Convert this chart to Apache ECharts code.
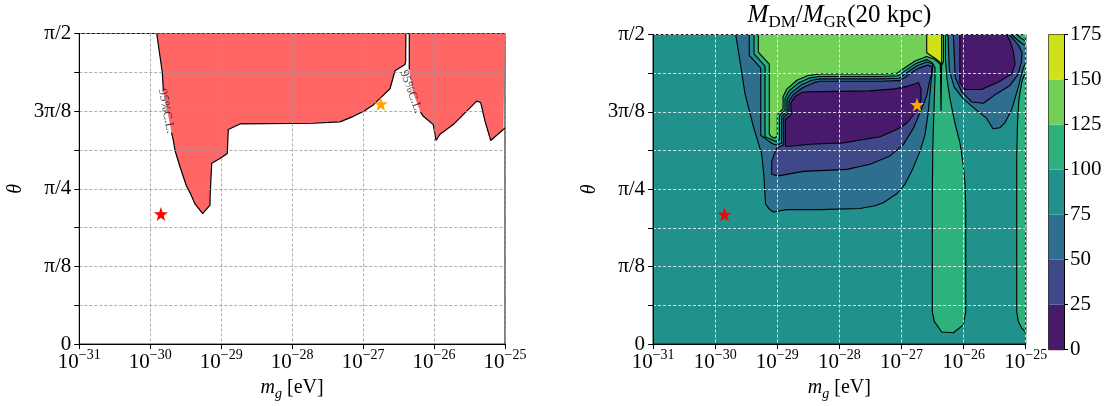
<!DOCTYPE html>
<html><head><meta charset="utf-8">
<script src="https://cdn.jsdelivr.net/npm/echarts@6/dist/echarts.min.js"></script>
<style>html,body{margin:0;padding:0;background:#fff}#c{width:1112px;height:406px}</style>
</head><body><div id="c"></div>
<script>
// ================= DATA =================
// x: log10(m_g / eV), y: theta in degrees (90 = pi/2)
const massDecades = [-31, -30, -29, -28, -27, -26, -25];
const thetaTickLabels = ['0', '', 'π/8', '', 'π/4', '', '3π/8', '', 'π/2']; // every π/16
const ratioLevels = [0, 25, 50, 75, 100, 125, 150, 175];

// left panel: excluded (95% C.L.) regions, boundary
const excludedRegionA = [
  [-29.909, 90.0], [-29.83, 78.7], [-29.816, 73.5], [-29.70, 61.3], [-29.675, 59.0],
  [-29.651, 56.1], [-29.581, 51.4], [-29.49, 45.8], [-29.440, 43.9], [-29.369, 40.6],
  [-29.261, 37.8], [-29.158, 40.3], [-29.156, 43.0], [-29.134, 52.4], [-29.017, 53.8],
  [-28.914, 55.2], [-28.900, 62.2], [-28.735, 63.8], [-28.36, 63.9], [-27.70, 64.0],
  [-27.326, 64.4], [-27.138, 66.0], [-26.997, 67.4], [-26.856, 69.3], [-26.762, 71.2],
  [-26.621, 74.0], [-26.550, 79.2], [-26.409, 81.0], [-26.400, 82.0], [-26.397, 90.0]
];
const excludedRegionB = [
  [-26.349, 90.0], [-26.349, 79.6], [-26.30, 73.1], [-26.191, 67.2], [-26.151, 66.0],
  [-26.011, 63.6], [-25.972, 59.0], [-25.916, 60.8], [-25.729, 63.6], [-25.399, 70.4],
  [-25.342, 70.0], [-25.282, 64.6], [-25.201, 59.0], [-25.024, 62.2], [-25.0, 62.6]
];
// where the "95%C.L." contour labels sit: [x, y, angle], and the stretch of line they hide
const clLabelSpots = [[-29.775, 67.5, -79], [-26.325, 73.1, -70]];
const clLabelGaps = [[-29.83, -29.69, 61, 74], [-26.36, -26.18, 66.5, 79.7]];

const redStar = [[-29.85, 37.7]];
const orangeStar = [[-26.75, 69.6]];

// right panel: filled contours of M_DM/M_GR (20 kpc); background band is 75-100
const leftWellBelow75 = [
  [-29.670, 90.0], [-29.601, 82.3], [-29.520, 72.8], [-29.386, 63.3], [-29.306, 58.5],
  [-29.251, 55.2], [-29.214, 48.5], [-29.190, 40.8], [-29.134, 39.3], [-29.064, 38.4],
  [-28.849, 39.1], [-28.312, 39.1], [-27.668, 39.4], [-27.427, 40.2], [-27.293, 41.1],
  [-27.077, 43.7], [-26.944, 46.5], [-26.810, 51.3], [-26.702, 56.1], [-26.622, 60.8],
  [-26.568, 67.5], [-26.530, 75.1], [-26.501, 79.9], [-26.493, 81.4], [-26.589, 82.0],
  [-26.750, 80.9], [-26.879, 79.3], [-27.040, 77.3], [-27.346, 77.1], [-28.312, 77.1],
  [-28.441, 76.7], [-28.618, 75.3], [-28.779, 73.0], [-28.844, 71.0], [-28.844, 67.6],
  [-28.929, 66.2], [-28.929, 58.4], [-29.021, 57.9], [-29.085, 58.3], [-29.182, 59.6],
  [-29.267, 60.7], [-29.267, 80.2], [-29.451, 83.9], [-29.451, 90.0]
];
const leftWellBelow50 = [
  [-28.897, 57.9], [-28.897, 65.9], [-28.812, 67.2], [-28.812, 70.6], [-28.747, 72.4],
  [-28.586, 74.6], [-28.409, 76.0], [-28.312, 76.4], [-27.346, 76.4], [-27.024, 76.6],
  [-26.863, 78.6], [-26.734, 80.1], [-26.581, 81.1], [-26.509, 80.7], [-26.517, 78.4],
  [-26.541, 77.0], [-26.594, 72.2], [-26.675, 68.4], [-26.810, 62.7], [-26.971, 58.0],
  [-27.185, 54.7], [-27.507, 52.3], [-27.882, 50.8], [-28.581, 50.2], [-28.984, 48.9],
  [-29.090, 49.4], [-29.090, 53.2], [-29.010, 57.0]
];
const leftWellBelow25 = [
  [-28.868, 57.5], [-28.868, 65.3], [-28.779, 66.7], [-28.779, 70.2], [-28.715, 72.0],
  [-28.586, 73.3], [-28.312, 73.4], [-27.507, 73.6], [-27.105, 74.2], [-26.895, 75.0],
  [-26.726, 76.0], [-26.686, 74.2], [-26.686, 70.7], [-26.742, 68.4], [-26.810, 66.6],
  [-26.916, 64.2], [-27.077, 62.4], [-27.346, 60.3], [-27.937, 58.5], [-28.473, 58.1],
  [-28.796, 57.5]
];
const peakAbove100 = [
  [-29.375, 90.0], [-26.292, 90.0], [-26.292, 82.7], [-26.267, 77.0], [-26.219, 71.3],
  [-26.139, 64.2], [-26.058, 58.4], [-26.010, 52.7], [-25.978, 47.0], [-25.966, 39.9],
  [-25.966, 9.4], [-26.005, 5.6], [-26.166, 3.3], [-26.353, 3.5], [-26.472, 6.6],
  [-26.504, 9.4], [-26.504, 42.7], [-26.496, 57.0], [-26.477, 68.4], [-26.461, 77.0],
  [-26.461, 80.4], [-26.509, 81.9], [-26.594, 82.7], [-26.767, 81.6], [-26.895, 80.0],
  [-27.056, 78.0], [-27.346, 77.8], [-28.312, 77.8], [-28.473, 77.4], [-28.651, 76.0],
  [-28.812, 73.6], [-28.876, 71.4], [-28.876, 68.0], [-28.965, 66.4], [-28.965, 59.4],
  [-29.021, 58.9], [-29.085, 59.4], [-29.198, 60.3], [-29.198, 80.8], [-29.375, 84.4]
];
const peakAbove125 = [
  [-29.306, 90.0], [-26.324, 90.0], [-26.324, 82.1], [-26.356, 81.0], [-26.412, 81.9],
  [-26.477, 82.9], [-26.594, 83.6], [-26.783, 82.3], [-26.916, 80.7], [-27.077, 78.7],
  [-27.346, 78.5], [-28.312, 78.5], [-28.506, 78.1], [-28.683, 76.7], [-28.844, 74.2],
  [-28.908, 71.9], [-28.908, 68.4], [-29.000, 66.7], [-29.000, 60.4], [-29.045, 59.9],
  [-29.093, 60.3], [-29.129, 61.0], [-29.129, 81.4], [-29.306, 84.9]
];
const peakAbove150 = [
  [-26.594, 90.0], [-26.353, 90.0], [-26.353, 81.9], [-26.364, 67.9], [-26.375, 81.9],
  [-26.461, 83.1], [-26.594, 84.7]
];
const rightWellBelow75 = [
  [-26.250, 90.0], [-25.229, 90.0], [-25.148, 88.7], [-25.076, 87.6], [-25.0, 86.7],
  [-25.0, 81.6], [-25.039, 80.4], [-25.119, 74.7], [-25.226, 68.1], [-25.333, 64.4],
  [-25.414, 62.9], [-25.527, 62.6], [-25.628, 65.6], [-25.816, 68.4], [-26.005, 71.3],
  [-26.150, 74.7], [-26.230, 79.5]
];
const rightWellBelow50 = [
  [-26.165, 90.0], [-25.269, 90.0], [-25.188, 88.4], [-25.108, 86.6], [-25.060, 84.7],
  [-25.068, 82.1], [-25.119, 78.5], [-25.253, 75.2], [-25.467, 72.8], [-25.683, 70.0],
  [-25.870, 70.4], [-26.030, 73.3], [-26.135, 77.6]
];
const rightWellBelow25 = [
  [-26.060, 90.0], [-25.306, 90.0], [-25.253, 88.1], [-25.200, 85.2], [-25.172, 81.4],
  [-25.226, 78.5], [-25.441, 76.2], [-25.709, 74.0], [-25.975, 74.0], [-26.060, 75.9]
];
const edgeAbove100 = [
  [-25.0, 79.3], [-25.060, 76.4], [-25.108, 71.3], [-25.132, 64.2], [-25.145, 54.2],
  [-25.145, 9.4], [-25.119, 6.6], [-25.064, 4.7], [-25.0, 3.3]
];
const cornerAbove100 = [[-25.140, 90.0], [-25.0, 90.0], [-25.0, 88.1], [-25.076, 88.9]];

// painting order and the level band (index into ratioLevels) of each filled contour
const contourLayers = [
  [leftWellBelow75, 2], [leftWellBelow50, 1], [leftWellBelow25, 0],
  [peakAbove100, 4], [peakAbove125, 5], [peakAbove150, 6],
  [rightWellBelow75, 2], [rightWellBelow50, 1], [rightWellBelow25, 0],
  [edgeAbove100, 4], [cornerAbove100, 4]
];
const backgroundBand = 3;

// ================= STYLE =================
const FONT = '"Liberation Serif","DejaVu Serif",serif';
const bandColors = ['#481a6c', '#3f4889', '#2e6e8e', '#21918c', '#2db27d', '#73d056', '#d0e11c'];
const STAR = 'path://M50,0 L61.8,35.3 L99,35.3 L69,57.6 L80.4,92.7 L50,71 L19.6,92.7 L31,57.6 L1,35.3 L38.2,35.3 Z';
const G1 = {left: 79.3, top: 33.5, width: 425.7, height: 318.8};
const G2 = {left: 653.1, top: 34.5, width: 372.6, height: 315.2};
const G3 = {left: 1048.7, top: 34.5, width: 15.3, height: 315.2};

const supRich = {
  b: {fontFamily: FONT, fontSize: 21, color: '#000', verticalAlign: 'bottom'},
  s: {fontFamily: FONT, fontSize: 14, color: '#000', verticalAlign: 'top', lineHeight: 25}
};
const nameRich = {
  i: {fontFamily: FONT, fontSize: 20, fontStyle: 'italic', color: '#000', verticalAlign: 'top'},
  sub: {fontFamily: FONT, fontSize: 14, fontStyle: 'italic', color: '#000', verticalAlign: 'bottom', lineHeight: 23},
  r: {fontFamily: FONT, fontSize: 20, color: '#000', verticalAlign: 'top'}
};

function massAxis(gi, splitColor, gap) {
  return {
    type: 'value', gridIndex: gi, min: massDecades[0], max: massDecades[massDecades.length - 1], interval: 1,
    z: 3,
    axisLine: {show: true, onZero: false, lineStyle: {color: '#000', width: 1}},
    axisTick: {show: true, inside: false, length: 5, lineStyle: {color: '#000', width: 1}},
    axisLabel: {
      margin: 4, showMinLabel: true, showMaxLabel: true,
      formatter: v => { const d = massDecades.find(m => Math.abs(m - v) < 1e-6); return d === undefined ? '' : '{b|10}{s|−' + Math.abs(d) + '}'; },
      rich: supRich
    },
    splitLine: {show: true, lineStyle: {color: splitColor, type: [3, 2], width: 0.8}},
    name: '{i|m}{sub|g}{r| [eV]}', nameLocation: 'middle', nameGap: gap,
    nameTextStyle: {rich: nameRich}
  };
}
function thetaAxis(gi, splitColor, gap) {
  return {
    type: 'value', gridIndex: gi, min: 0, max: 90, interval: 11.25,
    z: 3,
    axisLine: {show: true, onZero: false, lineStyle: {color: '#000', width: 1}},
    axisTick: {show: true, inside: false, length: 5, lineStyle: {color: '#000', width: 1}},
    axisLabel: {
      margin: 8, fontFamily: FONT, fontSize: 21, color: '#000',
      formatter: v => thetaTickLabels[Math.round(v / 11.25)] || ''
    },
    splitLine: {show: true, lineStyle: {color: splitColor, type: [3, 2], width: 0.8}},
    name: 'θ', nameLocation: 'middle', nameRotate: 90, nameGap: gap,
    nameTextStyle: {fontFamily: FONT, fontSize: 20, fontStyle: 'italic', color: '#000'}
  };
}

function outlineWithGaps(pts) {
  const out = [];
  const inGap = p => clLabelGaps.some(g => p[0] >= g[0] && p[0] <= g[1] && p[1] >= g[2] && p[1] <= g[3]);
  for (let i = 0; i < pts.length; i++) {
    out.push(pts[i]);
    if (i + 1 < pts.length && inGap(pts[i]) && inGap(pts[i + 1])) out.push(null);
  }
  return out;
}

const series = [];
[excludedRegionA, excludedRegionB].forEach(reg => {
  series.push({
    type: 'line', xAxisIndex: 0, yAxisIndex: 0, data: reg, showSymbol: false, symbol: 'none',
    lineStyle: {width: 0, opacity: 0}, areaStyle: {color: '#ff6666', opacity: 1, origin: 'end'},
    z: 1, silent: true, animation: false
  });
  series.push({
    type: 'line', xAxisIndex: 0, yAxisIndex: 0, data: outlineWithGaps(reg), showSymbol: false, symbol: 'none',
    connectNulls: false, lineStyle: {color: '#000', width: 1.2}, z: 2, silent: true, animation: false
  });
});
series.push({
  type: 'scatter', xAxisIndex: 0, yAxisIndex: 0, symbolSize: 0, z: 6, animation: false,
  data: clLabelSpots.map(s => ({value: [s[0], s[1]], label: {rotate: s[2]}})),
  label: {show: true, position: 'inside', formatter: '95%C.L.', fontFamily: FONT, fontSize: 12.5, color: '#111'}
});
series.push({
  type: 'custom', coordinateSystem: 'cartesian2d', xAxisIndex: 1, yAxisIndex: 1, clip: true, z: 1, animation: false,
  data: contourLayers.map((l, i) => [l[0][0][0], l[0][0][1], i]),
  renderItem: (params, api) => {
    const layer = contourLayers[params.dataIndex];
    return {
      type: 'polygon',
      shape: {points: layer[0].map(p => api.coord(p))},
      style: {fill: bandColors[layer[1]], stroke: '#000', lineWidth: 1.1, lineJoin: 'round'}
    };
  }
});
[[0, 0], [1, 1]].forEach(([xi, yi]) => {
  series.push({type: 'scatter', xAxisIndex: xi, yAxisIndex: yi, symbol: STAR, symbolSize: 14, z: 8, animation: false,
    itemStyle: {color: '#ff0000', opacity: 1}, data: redStar});
  series.push({type: 'scatter', xAxisIndex: xi, yAxisIndex: yi, symbol: STAR, symbolSize: 14, z: 8, animation: false,
    itemStyle: {color: '#ffa500', opacity: 1}, data: orangeStar});
});
// colour bar: one stacked segment per level band
for (let i = 0; i < ratioLevels.length - 1; i++) {
  series.push({type: 'bar', xAxisIndex: 2, yAxisIndex: 2, stack: 'cb', barWidth: '100%', animation: false,
    itemStyle: {color: bandColors[i]}, data: [ratioLevels[i + 1] - ratioLevels[i]], silent: true});
}

const option = {
  animation: false,
  grid: [
    Object.assign({show: true, borderColor: '#000', borderWidth: 1, backgroundColor: '#fff'}, G1),
    Object.assign({show: true, borderColor: '#000', borderWidth: 1, backgroundColor: bandColors[backgroundBand]}, G2),
    Object.assign({show: true, borderColor: '#000', borderWidth: 1}, G3)
  ],
  xAxis: [
    massAxis(0, '#999999', 28),
    massAxis(1, '#ffffff', 31),
    {type: 'category', gridIndex: 2, data: ['cb'], show: false}
  ],
  yAxis: [
    thetaAxis(0, '#999999', 54),
    thetaAxis(1, '#ffffff', 53),
    {type: 'value', gridIndex: 2, position: 'right', min: ratioLevels[0], max: ratioLevels[ratioLevels.length - 1], interval: 25,
     z: 3,
     axisLine: {show: true, lineStyle: {color: '#000'}},
     axisTick: {show: true, inside: false, length: 4, lineStyle: {color: '#000'}},
     axisLabel: {margin: 6, fontFamily: FONT, fontSize: 21, color: '#000'},
     splitLine: {show: false}}
  ],
  graphic: [{
    type: 'text', x: G2.left + G2.width / 2, y: 3,
    style: {
      text: '{i|M}{sub|DM}{r|/}{i|M}{sub|GR}{r|(20 kpc)}',
      rich: {
        i: {fontFamily: FONT, fontSize: 25, fontStyle: 'italic', color: '#000', verticalAlign: 'top'},
        sub: {fontFamily: FONT, fontSize: 17, color: '#000', verticalAlign: 'bottom', lineHeight: 28},
        r: {fontFamily: FONT, fontSize: 25, color: '#000', verticalAlign: 'top'}
      },
      align: 'center', textAlign: 'center', verticalAlign: 'top', textVerticalAlign: 'top'
    }
  }],
  series: series
};
const chart = echarts.init(document.getElementById('c'), null, {renderer: 'canvas'});
chart.setOption(option);
</script>
</body></html>
